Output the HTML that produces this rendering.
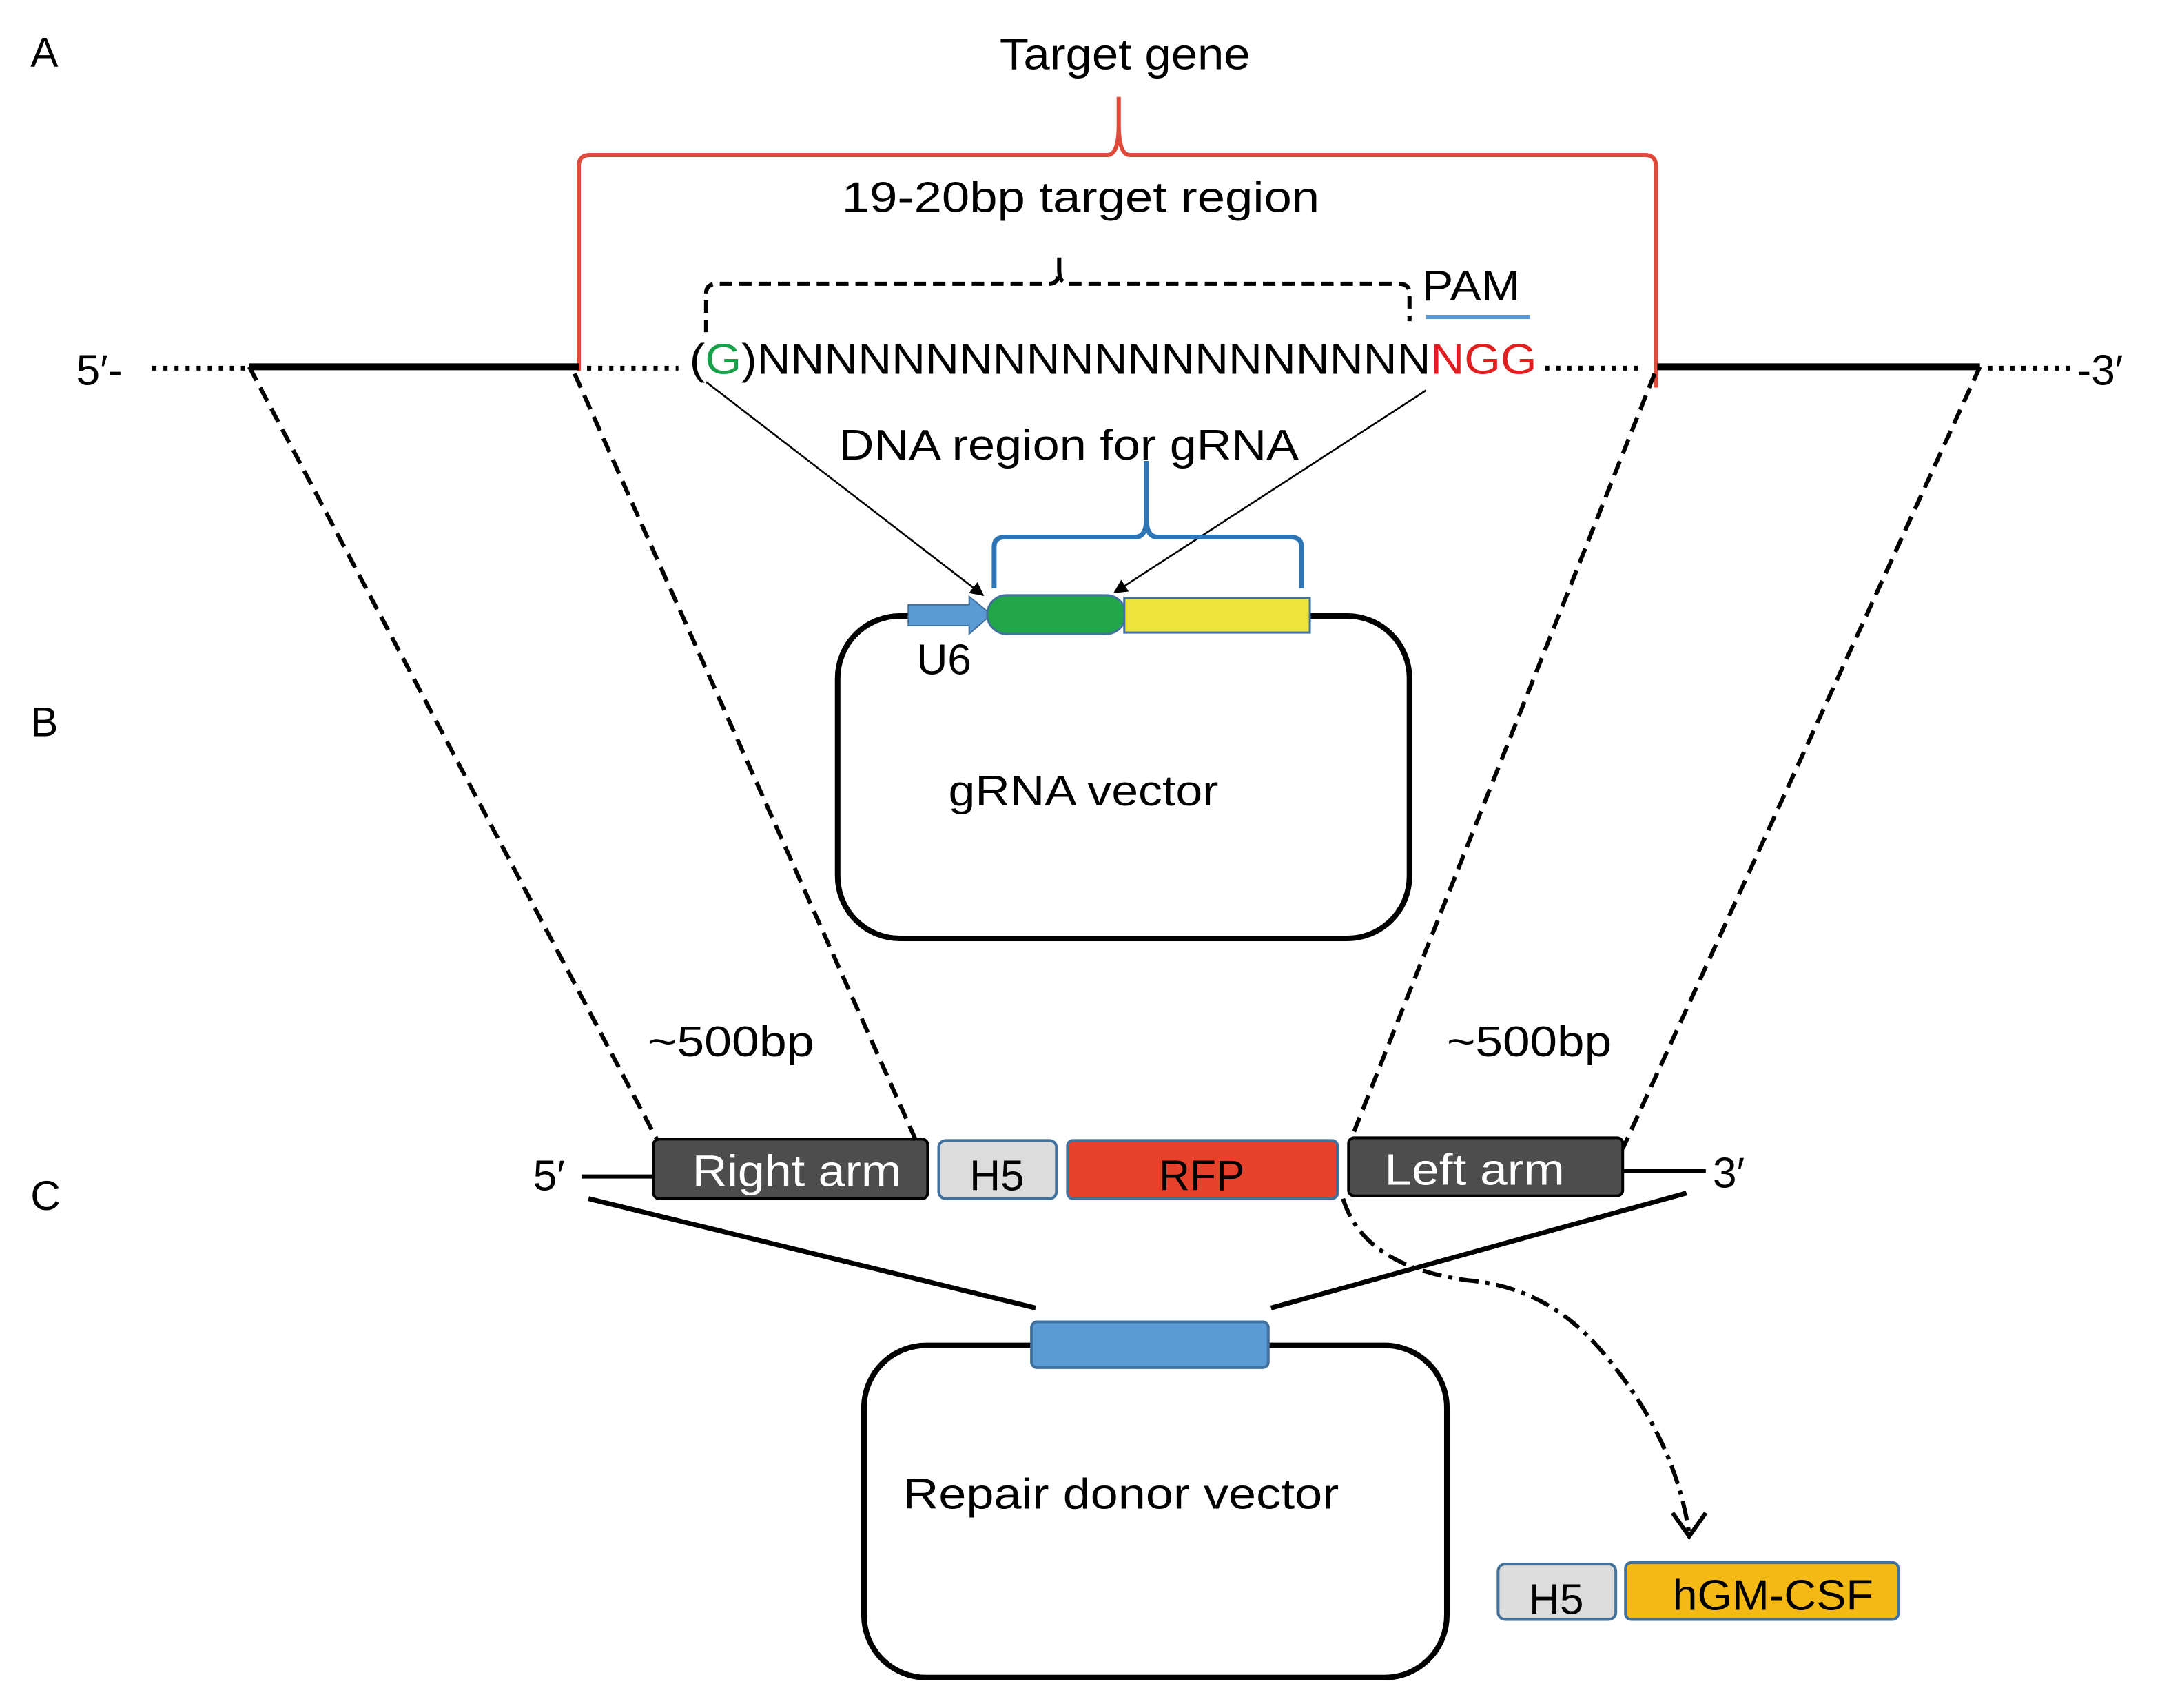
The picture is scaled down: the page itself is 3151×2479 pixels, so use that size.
<!DOCTYPE html>
<html><head><meta charset="utf-8"><style>
html,body{margin:0;padding:0;background:#fff;}
svg{display:block;}
text{font-family:"Liberation Sans",sans-serif;}
</style></head><body>
<svg width="3151" height="2479" viewBox="0 0 1568 1234" preserveAspectRatio="none" xmlns="http://www.w3.org/2000/svg">
<defs>
<marker id="ah" markerWidth="10" markerHeight="10" refX="9" refY="5" orient="auto" markerUnits="userSpaceOnUse"><path d="M0,0 L10,5 L0,10 z" fill="#000"/></marker>
</defs>
<text x="22" y="48" font-size="30">A</text>
<text x="22" y="532" font-size="30">B</text>
<text x="22" y="874" font-size="30">C</text>
<text x="722" y="50" font-size="32" textLength="181" lengthAdjust="spacingAndGlyphs">Target gene</text>
<path d="M418,268 L418,120 Q418,112 426,112 L800,112 Q808,112 808,90 L808,70 M808,90 Q808,112 816,112 L1188,112 Q1196,112 1196,120 L1196,280" fill="none" stroke="#e04a3a" stroke-width="3"/>
<text x="608" y="153" font-size="31" textLength="345" lengthAdjust="spacingAndGlyphs">19-20bp target region</text>
<path d="M510,240 L510,212 Q510,205 518,205 L758,205 Q765,205 765,195 L765,182 M765,195 Q765,205 772,205 L1010,205 Q1018,205 1018,212 L1018,232" fill="none" stroke="#000" stroke-width="3" stroke-dasharray="9,5"/>
<text x="1027" y="217" font-size="31" textLength="71" lengthAdjust="spacingAndGlyphs">PAM</text>
<line x1="1030" y1="229" x2="1105" y2="229" stroke="#5b9bd5" stroke-width="3"/>
<text x="55" y="278" font-size="31">5′-</text>
<line x1="110" y1="266" x2="178" y2="266" stroke="#000" stroke-width="3.5" stroke-dasharray="3,5"/>
<line x1="180" y1="265" x2="418" y2="265" stroke="#000" stroke-width="5"/>
<line x1="424" y1="266" x2="490" y2="266" stroke="#000" stroke-width="3.5" stroke-dasharray="3,5"/>
<text x="498" y="270" font-size="31" textLength="612" lengthAdjust="spacingAndGlyphs">(<tspan fill="#1aa04a">G</tspan>)NNNNNNNNNNNNNNNNNNNN<tspan fill="#e02020">NGG</tspan></text>
<line x1="1116" y1="266" x2="1185" y2="266" stroke="#000" stroke-width="3.5" stroke-dasharray="3,5"/>
<line x1="1197" y1="265" x2="1430" y2="265" stroke="#000" stroke-width="5"/>
<line x1="1436" y1="266" x2="1496" y2="266" stroke="#000" stroke-width="3.5" stroke-dasharray="3,5"/>
<text x="1500" y="278" font-size="31">-3′</text>
<text x="606" y="332" font-size="31" textLength="332" lengthAdjust="spacingAndGlyphs">DNA region for gRNA</text>
<line x1="510" y1="276" x2="710" y2="430" stroke="#000" stroke-width="1.3" marker-end="url(#ah)"/>
<line x1="1030" y1="282" x2="805" y2="428" stroke="#000" stroke-width="1.3" marker-end="url(#ah)"/>
<path d="M718,425 L718,395 Q718,388 726,388 L820,388 Q828,388 828,375 L828,333 M828,375 Q828,388 836,388 L932,388 Q940,388 940,395 L940,425" fill="none" stroke="#2e75b6" stroke-width="3.5"/>
<rect x="605" y="445" width="413" height="233" rx="45" fill="#fff" stroke="#000" stroke-width="4"/>
<path d="M656,437 L700,437 L700,431 L716,444 L700,458 L700,452 L656,452 z" fill="#5b9bd5" stroke="#41719c" stroke-width="1"/>
<rect x="713" y="430" width="100" height="28" rx="14" fill="#22a64a" stroke="#41719c" stroke-width="1.5"/>
<rect x="812" y="432" width="134" height="25" fill="#ede53c" stroke="#41719c" stroke-width="1.5"/>
<text x="662" y="487" font-size="31">U6</text>
<text x="685" y="582" font-size="31" textLength="195" lengthAdjust="spacingAndGlyphs">gRNA vector</text>
<g stroke="#000" stroke-width="3" stroke-dasharray="11,6">
<line x1="180" y1="265" x2="478" y2="830"/>
<line x1="415" y1="270" x2="662" y2="825"/>
<line x1="1195" y1="270" x2="975" y2="825"/>
<line x1="1430" y1="265" x2="1172" y2="830"/>
</g>
<text x="468" y="763" font-size="31" textLength="120" lengthAdjust="spacingAndGlyphs">~500bp</text>
<text x="1045" y="763" font-size="31" textLength="119" lengthAdjust="spacingAndGlyphs">~500bp</text>
<text x="385" y="860" font-size="31">5′</text>
<line x1="420" y1="850" x2="472" y2="850" stroke="#000" stroke-width="3"/>
<rect x="472" y="823" width="198" height="43" rx="4" fill="#4d4d4d" stroke="#000" stroke-width="2"/>
<text x="500" y="857" font-size="32" fill="#fff" textLength="151" lengthAdjust="spacingAndGlyphs">Right arm</text>
<rect x="678" y="824" width="85" height="42" rx="5" fill="#dcdcdc" stroke="#41719c" stroke-width="2"/>
<text x="720" y="860" font-size="31" text-anchor="middle">H5</text>
<rect x="771" y="824" width="195" height="42" rx="4" fill="#e8412c" stroke="#41719c" stroke-width="2"/>
<text x="868" y="860" font-size="31" text-anchor="middle">RFP</text>
<rect x="974" y="822" width="198" height="42" rx="4" fill="#4d4d4d" stroke="#000" stroke-width="2"/>
<text x="1000" y="856" font-size="32" fill="#fff" textLength="130" lengthAdjust="spacingAndGlyphs">Left arm</text>
<line x1="1172" y1="846" x2="1232" y2="846" stroke="#000" stroke-width="3"/>
<text x="1237" y="858" font-size="31">3′</text>
<line x1="425" y1="866" x2="748" y2="945" stroke="#000" stroke-width="3.5"/>
<line x1="1218" y1="862" x2="918" y2="945" stroke="#000" stroke-width="3.5"/>
<rect x="624" y="972" width="421" height="240" rx="45" fill="#fff" stroke="#000" stroke-width="4"/>
<rect x="745" y="955" width="171" height="33" rx="4" fill="#5b9bd5" stroke="#41719c" stroke-width="2"/>
<text x="652" y="1090" font-size="31" textLength="315" lengthAdjust="spacingAndGlyphs">Repair donor vector</text>
<path d="M970,866 Q985,915 1060,925 Q1120,930 1160,980 Q1210,1040 1220,1108" fill="none" stroke="#000" stroke-width="3" stroke-dasharray="14,5,3,5"/>
<path d="M1208,1093 L1220,1110 L1232,1093" fill="none" stroke="#000" stroke-width="3"/>
<rect x="1082" y="1130" width="85" height="40" rx="5" fill="#dcdcdc" stroke="#41719c" stroke-width="2"/>
<text x="1124" y="1166" font-size="31" text-anchor="middle">H5</text>
<rect x="1174" y="1129" width="197" height="41" rx="4" fill="#f5b915" stroke="#41719c" stroke-width="2"/>
<text x="1208" y="1163" font-size="31" textLength="145" lengthAdjust="spacingAndGlyphs">hGM-CSF</text>
</svg>
</body></html>
